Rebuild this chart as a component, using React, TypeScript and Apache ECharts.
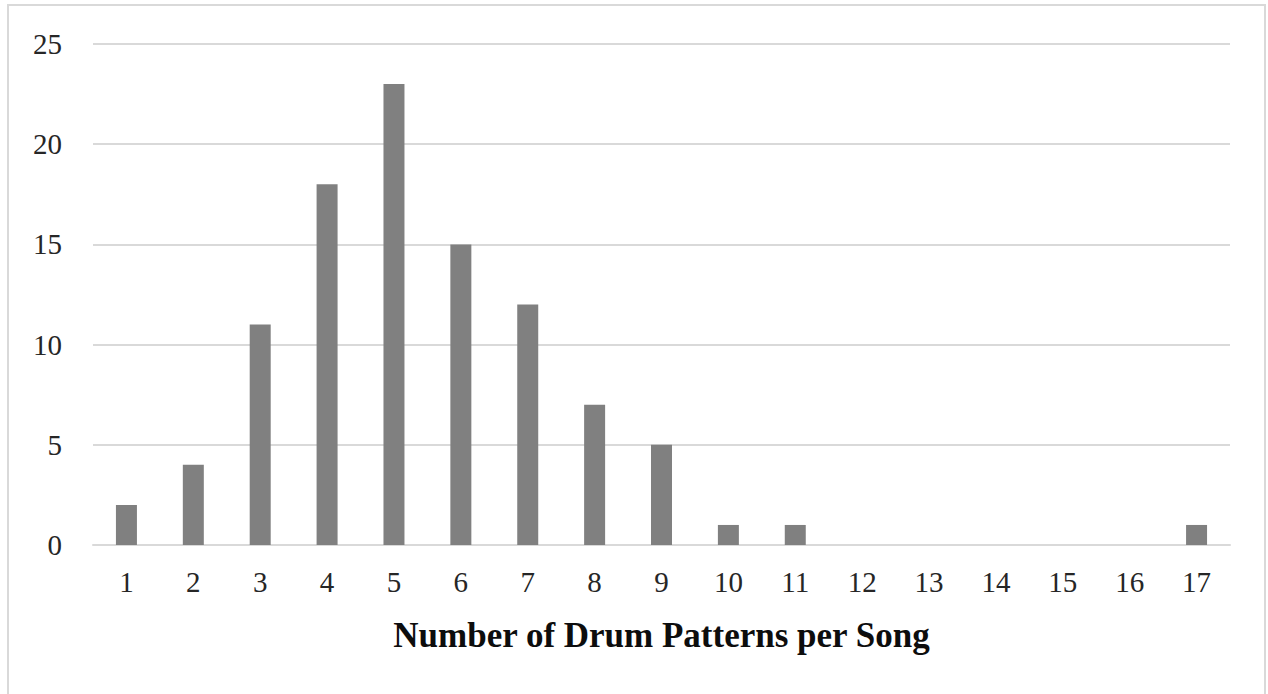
import React, { useEffect, useRef } from "react";
import * as echarts from "echarts";

const categories = ["1","2","3","4","5","6","7","8","9","10","11","12","13","14","15","16","17"];
const counts = [2, 4, 11, 18, 23, 15, 12, 7, 5, 1, 1, 0, 0, 0, 0, 0, 1];
const yTicks = { min: 0, max: 25, interval: 5 };
const xTitle = "Number of Drum Patterns per Song";

const FONT = "'Liberation Serif', 'DejaVu Serif', serif";

export default function App() {
  const ref = useRef<HTMLDivElement>(null);
  useEffect(() => {
    document.body.style.margin = "0";
    const chart = echarts.init(ref.current!, null, { renderer: "svg" });
    chart.setOption({
      animation: false,
      backgroundColor: "#ffffff",
      graphic: [
        {
          type: "rect",
          shape: { x: 8, y: 5, width: 1257, height: 700 },
          style: { fill: "none", stroke: "#d9d9d9", lineWidth: 2 },
          silent: true,
        },
      ],
      grid: { left: 93, right: 38, top: 44, bottom: 149, containLabel: false },
      xAxis: {
        type: "category",
        data: categories,
        axisTick: { show: false },
        axisLine: { lineStyle: { color: "#d9d9d9", width: 2 } },
        axisLabel: { color: "#262626", fontFamily: FONT, fontSize: 29, margin: 22 },
        name: xTitle,
        nameLocation: "middle",
        nameGap: 73,
        nameTextStyle: { color: "#0d0d0d", fontFamily: FONT, fontSize: 35, fontWeight: "bold" },
      },
      yAxis: {
        type: "value",
        min: yTicks.min,
        max: yTicks.max,
        interval: yTicks.interval,
        axisLine: { show: false },
        axisTick: { show: false },
        splitLine: { lineStyle: { color: "#d9d9d9", width: 2 } },
        axisLabel: { color: "#262626", fontFamily: FONT, fontSize: 29, margin: 31 },
      },
      series: [
        {
          type: "bar",
          data: counts,
          barWidth: 21,
          itemStyle: { color: "#808080" },
        },
      ],
    });
    return () => chart.dispose();
  }, []);
  return <div ref={ref} style={{ width: 1268, height: 694, position: "absolute", left: 0, top: 0 }} />;
}
